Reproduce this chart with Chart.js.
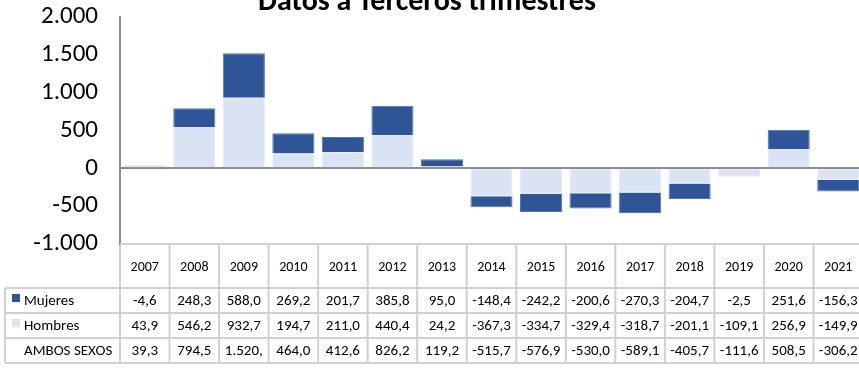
<!DOCTYPE html>
<html>
<head>
<meta charset="utf-8">
<script src="https://cdn.jsdelivr.net/npm/chart.js@4/dist/chart.umd.min.js"></script>
<style>
  html, body { margin: 0; padding: 0; background: #fff; overflow: hidden; }
  #wrap { width: 863px; height: 368px; position: relative; }
</style>
</head>
<body>
<div id="wrap"><canvas id="c"></canvas></div>
<script>
// Afiliación: variación a terceros trimestres, por sexo
const years   = ['2007','2008','2009','2010','2011','2012','2013','2014','2015','2016','2017','2018','2019','2020','2021'];
const mujeres = [-4.6, 248.3, 588.0, 269.2, 201.7, 385.8, 95.0, -148.4, -242.2, -200.6, -270.3, -204.7, -2.5, 251.6, -156.3];
const hombres = [43.9, 546.2, 932.7, 194.7, 211.0, 440.4, 24.2, -367.3, -334.7, -329.4, -318.7, -201.1, -109.1, 256.9, -149.9];
const ambos   = [39.3, 794.5, 1520.7, 464.0, 412.6, 826.2, 119.2, -515.7, -576.9, -530.0, -589.1, -405.7, -111.6, 508.5, -306.2];
const yTicks  = [2000, 1500, 1000, 500, 0, -500, -1000];

const DARK = '#2F5597';
const LIGHT = '#DAE3F3';
const GRID = '#d0d0d0';
const FONT = 'Carlito, Lato, "Noto Sans", sans-serif';

function fmt(v) {
  const neg = v < 0;
  let [i, d] = Math.abs(v).toFixed(1).split('.');
  i = i.replace(/\B(?=(\d{3})+(?!\d))/g, '.');
  return (neg ? '-' : '') + i + ',' + d;
}
function fmtTick(v) {
  const neg = v < 0;
  const s = String(Math.abs(v)).replace(/\B(?=(\d{3})+(?!\d))/g, '.');
  return (neg ? '-' : '') + s;
}

// Draws the title and the data table under the plot
const tablePlugin = {
  id: 'dataTable',
  afterDraw(chart) {
    const ctx = chart.ctx;
    const x = chart.scales.x;
    const area = chart.chartArea;
    const colW = x.getPixelForValue(1) - x.getPixelForValue(0);
    const top = area.bottom;
    const headBottom = 288;
    const rowH = 25;
    const rows = [
      { label: 'Mujeres', swatch: DARK, values: mujeres },
      { label: 'Hombres', swatch: LIGHT, values: hombres },
      { label: 'AMBOS SEXOS', swatch: null, values: ambos }
    ];
    const tableBottom = headBottom + rowH * rows.length;
    const leftEdge = 5;

    ctx.save();
    // title
    ctx.fillStyle = '#000';
    ctx.font = 'bold 30px ' + FONT;
    ctx.textAlign = 'center';
    ctx.textBaseline = 'alphabetic';
    ctx.fillText('Datos a Terceros trimestres', 427, 10);

    // grid lines
    ctx.strokeStyle = GRID;
    ctx.lineWidth = 2;
    ctx.beginPath();
    ctx.moveTo(area.left, top); ctx.lineTo(area.right + 2, top);
    for (let r = 0; r <= rows.length; r++) {
      const yy = headBottom + r * rowH;
      ctx.moveTo(leftEdge, yy); ctx.lineTo(area.right + 2, yy);
    }
    for (let i = 0; i <= years.length; i++) {
      const xx = x.getPixelForValue(0) - colW / 2 + i * colW;
      ctx.moveTo(xx, i === 0 ? top + 1 : top); ctx.lineTo(xx, tableBottom);
    }
    ctx.moveTo(leftEdge, headBottom); ctx.lineTo(leftEdge, tableBottom);
    ctx.stroke();

    // header years
    ctx.fillStyle = '#000';
    ctx.font = '14px ' + FONT;
    ctx.textBaseline = 'middle';
    ctx.textAlign = 'center';
    years.forEach((yr, i) => ctx.fillText(yr, x.getPixelForValue(i), (top + headBottom) / 2 + 1));

    // rows
    ctx.font = '15px ' + FONT;
    rows.forEach((row, r) => {
      const cy = headBottom + r * rowH + rowH / 2 + 0.5;
      if (row.swatch) {
        ctx.fillStyle = row.swatch;
        ctx.fillRect(12, cy - 7, 8, 8);
      }
      ctx.fillStyle = '#000';
      ctx.textAlign = 'left';
      ctx.fillText(row.label, 24, cy);
      ctx.textAlign = 'center';
      row.values.forEach((v, i) => {
        let s = fmt(v);
        while (ctx.measureText(s).width > colW - 6 && s.length > 1) s = s.slice(0, -1);
        ctx.fillText(s, x.getPixelForValue(i), cy);
      });
    });
    ctx.restore();
  }
};

new Chart(document.getElementById('c'), {
  type: 'bar',
  data: {
    labels: years,
    datasets: [
      { label: 'Hombres', data: hombres, backgroundColor: LIGHT, borderColor: '#e4eaf6', borderWidth: 1 },
      { label: 'Mujeres', data: mujeres, backgroundColor: DARK, borderColor: '#5477b3', borderWidth: 1 }
    ]
  },
  options: {
    responsive: true,
    maintainAspectRatio: false,
    animation: false,
    events: [],
    layout: { padding: { top: 17, bottom: 124, left: 0, right: 0 } },
    datasets: { bar: { categoryPercentage: 1.0, barPercentage: 0.85 } },
    plugins: { legend: { display: false }, tooltip: { enabled: false }, title: { display: false } },
    scales: {
      x: { stacked: true, display: false, offset: true },
      y: {
        stacked: true,
        min: -1000, max: 2000,
        afterFit(scale) {
          scale.width = 120;
          scale.paddingTop = 0;
          scale.paddingBottom = 0;
        },
        afterBuildTicks(scale) { scale.ticks = yTicks.map(v => ({ value: v })); },
        border: { display: true, color: '#8c8c8c', width: 2 },
        grid: {
          drawTicks: false,
          color: ctx => (ctx.tick && ctx.tick.value === 0) ? '#8c8c8c' : 'rgba(0,0,0,0)',
          lineWidth: 2
        },
        ticks: {
          padding: 22,
          color: '#000',
          font: { family: FONT, size: 25 },
          callback: v => fmtTick(v)
        }
      }
    }
  },
  plugins: [tablePlugin]
});
</script>
</body>
</html>
